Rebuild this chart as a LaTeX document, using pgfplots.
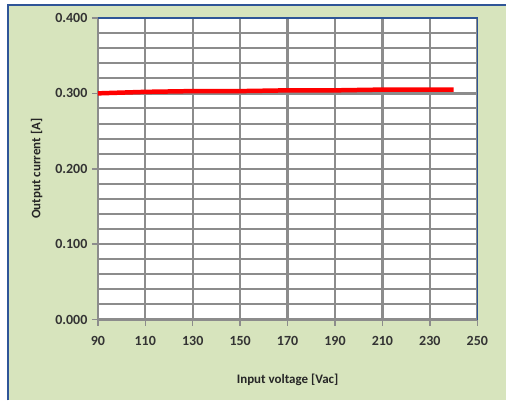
\documentclass[border=0pt]{standalone}
\usepackage{pgfplots}
\pgfplotsset{compat=1.18}
\usepackage{fontspec}
\setmainfont{Carlito}
\definecolor{panelGreen}{HTML}{D7E4BD}
\definecolor{frameBlue}{HTML}{2F5597}
\definecolor{gridGrey}{HTML}{8C8C8C}

\begin{document}
\begin{tikzpicture}[x=1pt,y=1pt]
% chart panel
\fill[white] (-98,-81) rectangle (409,320);
\fill[panelGreen] (-90,-81) rectangle (409,315);
\draw[frameBlue, line width=1.5pt] (-90,-81) -- (-90,315) -- (409,315);
\begin{axis}[
  at={(0,0)}, anchor=south west,
  width=380pt, height=302pt, scale only axis,
  xmin=90, xmax=250, ymin=0, ymax=0.4,
  xtick={90,110,...,250},
  ytick={0,0.1,...,0.4},
  minor ytick={0.02,0.04,...,0.38},
  grid=both,
  major grid style={gridGrey, line width=2.4pt},
  minor grid style={gridGrey, line width=2pt},
  axis background/.style={fill=white},
  axis line style={gridGrey, line width=2.4pt},
  tick style={gridGrey, line width=1.5pt},
  major tick length=6pt, minor tick length=0pt,
  tick align=outside,
  xtick pos=bottom, ytick pos=left,
  /pgf/number format/assume math mode=true,
  yticklabel style={/pgf/number format/fixed, /pgf/number format/fixed zerofill, /pgf/number format/precision=3, xshift=-1pt},
  ticklabel style={font=\fontsize{14}{16}\selectfont\bfseries, text=black!80},
  xticklabel style={yshift=-7pt},
  xlabel={Input voltage [Vac]},
  ylabel={Output current [A]},
  label style={font=\fontsize{13}{15}\selectfont\bfseries, text=black!85},
  xlabel style={yshift=-22pt},
  ylabel style={yshift=6pt},
]
\addplot[red, line width=4.5pt, no marks] coordinates {
  (90,0.300) (110,0.302) (130,0.303) (150,0.303) (170,0.304)
  (190,0.304) (210,0.305) (230,0.305) (240,0.305)
};
\end{axis}
\draw[frameBlue, line width=1.5pt] (0,302) -- (380,302) -- (380,0);
\end{tikzpicture}
\end{document}
